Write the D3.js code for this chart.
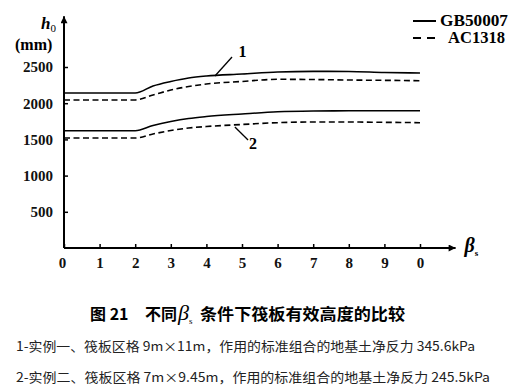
<!DOCTYPE html>
<html>
<head>
<meta charset="utf-8">
<script src="https://cdn.jsdelivr.net/npm/d3@7"></script>
<style>
  html, body { margin: 0; padding: 0; background: #fff; }
  svg { display: block; }
  .serif { font-family: "Liberation Serif", "Times New Roman", "DejaVu Serif", serif; }
  .cjk { font-family: "Noto Sans CJK SC", sans-serif; }
</style>
</head>
<body>
<svg id="chart" width="519" height="391"></svg>
<script>
// ---- data ----
const betaValues = [0, 1, 2, 2.5, 3, 3.5, 4, 5, 6, 7, 8, 9, 10];
const gb1 = [2140, 2140, 2140, 2238, 2300, 2348, 2376, 2403, 2431, 2440, 2438, 2424, 2417];
const ac1 = [2045, 2045, 2045, 2113, 2182, 2230, 2265, 2300, 2330, 2327, 2320, 2316, 2311];
const gb2 = [1620, 1620, 1620, 1692, 1747, 1789, 1816, 1851, 1881, 1892, 1895, 1896, 1896];
const ac2 = [1519, 1519, 1519, 1575, 1623, 1657, 1678, 1706, 1731, 1740, 1740, 1736, 1731];
const xTicks = [0, 1, 2, 3, 4, 5, 6, 7, 8, 9, 10];
const xTickLabels = ["0", "1", "2", "3", "4", "5", "6", "7", "8", "9", "0"];
const yTicks = [500, 1000, 1500, 2000, 2500];
const legendLabels = ["GB50007", "AC1318"];
const captionTitle = "图 21";
const captionText1 = "不同";
const captionText2 = "条件下筏板有效高度的比较";
const note1 = "1-实例一、筏板区格 9m×11m，作用的标准组合的地基土净反力 345.6kPa";
const note2 = "2-实例二、筏板区格 7m×9.45m，作用的标准组合的地基土净反力 245.5kPa";

// ---- scales ----
const x = d3.scaleLinear().domain([0, 10]).range([64, 420]);
const y = d3.scaleLinear().domain([0, 2500]).range([248, 67]);

const svg = d3.select("#chart");
svg.append("rect").attr("width", 519).attr("height", 391).attr("fill", "#fff");

// arrow marker
const defs = svg.append("defs");
defs.append("marker").attr("id", "arr")
  .attr("viewBox", "0 0 10 10").attr("refX", 10).attr("refY", 5)
  .attr("markerWidth", 11).attr("markerHeight", 7).attr("markerUnits", "userSpaceOnUse")
  .attr("orient", "auto")
  .append("path").attr("d", "M0,0 L10,5 L0,10 Z").attr("fill", "#000");

// ---- axes ----
const yAxis = d3.axisLeft(y).tickValues(yTicks).tickSizeInner(-4).tickSizeOuter(0).tickPadding(11)
  .tickFormat(d3.format("d"));
const gy = svg.append("g").attr("transform", `translate(${x(0)},0)`).call(yAxis);
gy.attr("font-family", null).attr("font-size", null);
gy.select(".domain").remove();
gy.selectAll(".tick line").attr("stroke", "#000").attr("stroke-width", 1.5);
gy.selectAll(".tick text").attr("class", "serif").style("font-size", "15px")
  .style("font-weight", "bold").attr("fill", "#111");

const xAxis = d3.axisBottom(x).tickValues(xTicks).tickSizeInner(-4).tickSizeOuter(0).tickPadding(9)
  .tickFormat((d, i) => xTickLabels[i]);
const gx = svg.append("g").attr("transform", `translate(0,${y(0)})`).call(xAxis);
gx.attr("font-family", null).attr("font-size", null);
gx.select(".domain").remove();
gx.selectAll(".tick line").attr("stroke", "#000").attr("stroke-width", 1.5);
gx.selectAll(".tick text").attr("class", "serif").style("font-size", "15px")
  .style("font-weight", "bold").attr("fill", "#111");
gx.selectAll(".tick").filter(d => d === 0).select("text").attr("dx", -2);

// axis lines with arrows
svg.append("line").attr("x1", x(0)).attr("y1", y(0)).attr("x2", x(11)).attr("y2", y(0))
  .attr("stroke", "#000").attr("stroke-width", 2).attr("marker-end", "url(#arr)");
svg.append("line").attr("x1", x(0)).attr("y1", y(0)).attr("x2", x(0)).attr("y2", y(3200))
  .attr("stroke", "#000").attr("stroke-width", 2).attr("marker-end", "url(#arr)");

// axis titles
const hLab = svg.append("text").attr("class", "serif").attr("x", 41).attr("y", 29)
  .style("font-size", "17px").style("font-weight", "bold");
hLab.append("tspan").style("font-style", "italic").text("h");
hLab.append("tspan").style("font-size", "11px").style("font-weight", "normal").attr("dy", 3).text("0");
svg.append("text").attr("class", "serif").attr("x", 15).attr("y", 50)
  .style("font-size", "16px").style("font-weight", "bold").text("(mm)");

const bLab = svg.append("text").attr("class", "serif").attr("x", x(11) + 9).attr("y", y(0) + 4)
  .style("font-size", "20px").style("font-weight", "bold");
bLab.append("tspan").style("font-style", "italic").text("β");
bLab.append("tspan").style("font-size", "9px").attr("dy", 4).text("s");

// ---- lines ----
const line = d3.line().x((d, i) => x(betaValues[i])).y(d => y(d)).curve(d3.curveMonotoneX);
const series = [
  { vals: gb1, dash: null },
  { vals: ac1, dash: "6,3.5" },
  { vals: gb2, dash: null },
  { vals: ac2, dash: "6,3.5" }
];
series.forEach(s => {
  svg.append("path").attr("d", line(s.vals)).attr("fill", "none")
    .attr("stroke", "#000").attr("stroke-width", 1.6)
    .attr("stroke-dasharray", s.dash);
});

// curve labels with leader lines
svg.append("line").attr("x1", x(4.24)).attr("y1", y(2376)).attr("x2", x(4.72)).attr("y2", y(2638))
  .attr("stroke", "#000").attr("stroke-width", 1.3);
svg.append("text").attr("class", "serif").attr("x", x(4.9)).attr("y", y(2640))
  .style("font-size", "16px").style("font-weight", "bold").text("1");
svg.append("line").attr("x1", x(4.8)).attr("y1", y(1671)).attr("x2", x(5.17)).attr("y2", y(1492))
  .attr("stroke", "#000").attr("stroke-width", 1.3);
svg.append("text").attr("class", "serif").attr("x", x(5.2)).attr("y", y(1370))
  .style("font-size", "16px").style("font-weight", "bold").text("2");

// ---- legend ----
const legY = [21, 38];
legendLabels.forEach((lab, i) => {
  svg.append("line").attr("x1", 413).attr("x2", 436).attr("y1", legY[i]).attr("y2", legY[i])
    .attr("stroke", "#000").attr("stroke-width", 2)
    .attr("stroke-dasharray", i === 1 ? "8,6" : null);
  svg.append("text").attr("class", "serif").attr("x", i === 0 ? 440 : 448).attr("y", legY[i] + 5)
    .style("font-size", "16px").style("font-weight", "bold")
    .attr("textLength", i === 0 ? 68 : 57).attr("lengthAdjust", "spacingAndGlyphs")
    .text(lab);
});

// ---- caption ----
svg.append("text").attr("class", "cjk").attr("x", 90).attr("y", 320)
  .style("font-size", "16px").style("font-weight", "bold").text(captionTitle);
svg.append("text").attr("class", "cjk").attr("x", 145).attr("y", 320)
  .style("font-size", "16px").style("font-weight", "bold").text(captionText1);
const cb = svg.append("text").attr("class", "serif").attr("x", 178).attr("y", 320)
  .style("font-size", "22px");
cb.append("tspan").style("font-style", "italic").text("β");
cb.append("tspan").style("font-size", "9px").attr("dy", 4).text("s");
svg.append("text").attr("class", "cjk").attr("x", 200).attr("y", 320)
  .style("font-size", "16px").style("font-weight", "bold")
  .attr("textLength", 205).attr("lengthAdjust", "spacingAndGlyphs").text(captionText2);

svg.append("text").attr("class", "cjk").attr("x", 16).attr("y", 351)
  .style("font-size", "13px").attr("fill", "#222")
  .attr("textLength", 459).attr("lengthAdjust", "spacingAndGlyphs").text(note1);
svg.append("text").attr("class", "cjk").attr("x", 16).attr("y", 382)
  .style("font-size", "13px").attr("fill", "#222")
  .attr("textLength", 474).attr("lengthAdjust", "spacingAndGlyphs").text(note2);
</script>
</body>
</html>
